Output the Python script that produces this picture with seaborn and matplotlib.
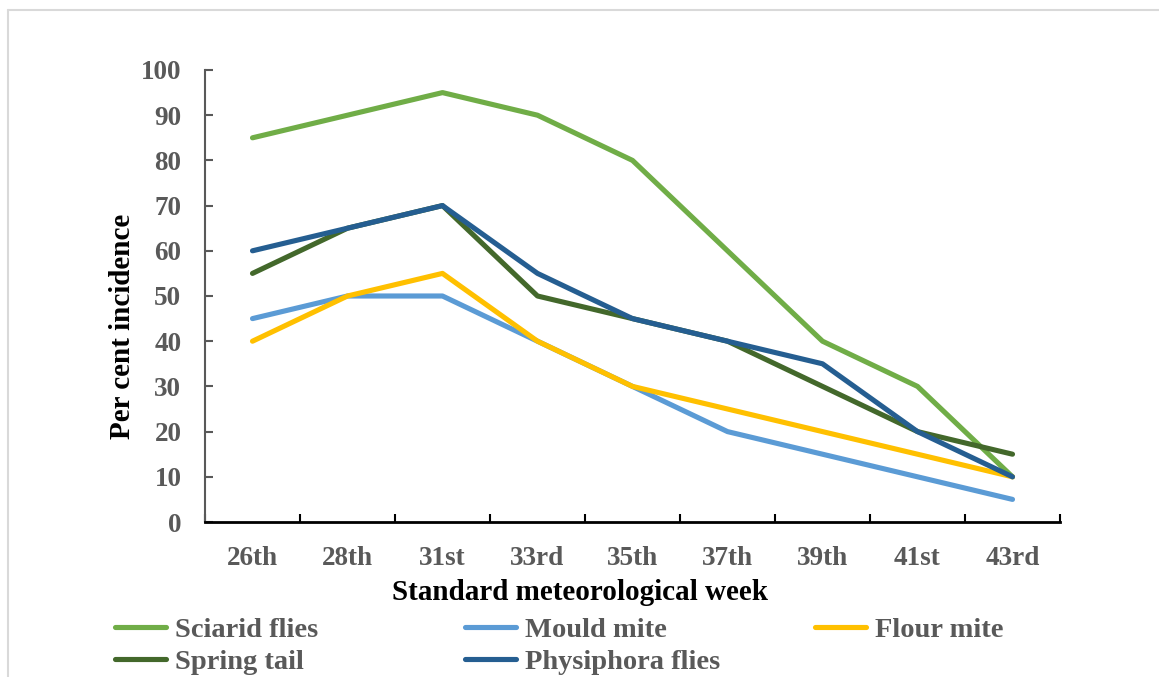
import numpy as np
import pandas as pd
import matplotlib
matplotlib.use("Agg")
import matplotlib.pyplot as plt
import seaborn as sns
from matplotlib.lines import Line2D

weeks = ["26th", "28th", "31st", "33rd", "35th", "37th", "39th", "41st", "43rd"]
sciarid_flies = [85, 90, 95, 90, 80, 60, 40, 30, 10]
mould_mite = [45, 50, 50, 40, 30, 20, 15, 10, 5]
flour_mite = [40, 50, 55, 40, 30, 25, 20, 15, 10]
spring_tail = [55, 65, 70, 50, 45, 40, 30, 20, 15]
physiphora_flies = [60, 65, 70, 55, 45, 40, 35, 20, 10]
series_names = ["Sciarid flies", "Mould mite", "Flour mite", "Spring tail", "Physiphora flies"]
y_ticks = [0, 10, 20, 30, 40, 50, 60, 70, 80, 90, 100]

colors = ["#70AD47", "#5B9BD5", "#FFC000", "#43682B", "#255E91"]
palette = dict(zip(series_names, colors))

sns.set_theme(style="white")
plt.rcParams["font.family"] = ["Liberation Serif", "DejaVu Serif"]
plt.rcParams["font.weight"] = "bold"

W, H = 1159, 677
fig = plt.figure(figsize=(W / 100, H / 100), dpi=100)
ax = fig.add_axes([205 / W, 1 - 522 / H, (1060 - 205) / W, (522 - 70) / H])

values = [sciarid_flies, mould_mite, flour_mite, spring_tail, physiphora_flies]
df = pd.DataFrame({
    "pos": np.tile(np.arange(len(weeks)), len(series_names)),
    "value": np.concatenate(values),
    "series": np.repeat(series_names, len(weeks)),
})
sns.lineplot(data=df, x="pos", y="value", hue="series", hue_order=series_names,
             palette=palette, linewidth=3.7, legend=False, sort=False, ax=ax)
for ln in ax.lines:
    ln.set_solid_capstyle("round")
    ln.set_solid_joinstyle("round")

ax.set_xlim(-0.5, len(weeks) - 0.5)
ax.set_ylim(0, 100)
ax.set_xticks(range(len(weeks)))
ax.set_xticklabels(weeks)
ax.set_xticks(np.arange(-0.5, len(weeks)), minor=True)
ax.set_yticks(y_ticks)
ax.set_yticklabels([str(v) for v in y_ticks])
ax.tick_params(axis="x", which="major", length=0, pad=17, labelsize=19.5, labelcolor="#595959")
ax.tick_params(axis="x", which="minor", direction="in", length=6, width=1.5, color="black", bottom=True)
ax.tick_params(axis="y", which="major", direction="in", length=6, width=1.5, color="#595959",
               pad=17, labelsize=19.5, labelcolor="#595959", left=True)
for lab in ax.get_xticklabels() + ax.get_yticklabels():
    lab.set_fontweight("bold")

for side in ["top", "right"]:
    ax.spines[side].set_visible(False)
ax.spines["left"].set_color("#595959")
ax.spines["left"].set_linewidth(1.5)
ax.spines["bottom"].set_color("black")
ax.spines["bottom"].set_linewidth(2)
ax.set_xlabel("")
ax.set_ylabel("")
ax.grid(False)

fig.text(580 / W, 1 - 592 / H, "Standard meteorological week", ha="center", va="center",
         fontsize=21, fontweight="bold", color="black")
fig.text(122 / W, 1 - 326 / H, "Per cent incidence", ha="center", va="center", rotation=90,
         fontsize=21, fontweight="bold", color="black")

# legend laid out in three columns
columns = [(115, ["Sciarid flies", "Spring tail"]),
           (465, ["Mould mite", "Physiphora flies"]),
           (815, ["Flour mite"])]
for x0, names in columns:
    handles = [Line2D([], [], color=palette[n], linewidth=3.7, solid_capstyle="round") for n in names]
    leg = fig.legend(handles, names, loc="upper left", bbox_to_anchor=(x0 / W, 1 - 617 / H),
                     frameon=False, fontsize=20.5, handlelength=1.8, handletextpad=0.3,
                     labelspacing=0.2, borderpad=0, borderaxespad=0)
    for t in leg.get_texts():
        t.set_color("#595959")
        t.set_fontweight("bold")

# outer chart frame
fig.add_artist(Line2D([8 / W, 1.0], [1 - 10 / H, 1 - 10 / H], color="#D9D9D9", linewidth=1.5))
fig.add_artist(Line2D([8 / W, 8 / W], [0, 1 - 10 / H], color="#D9D9D9", linewidth=1.5))

fig.savefig("out.png", dpi=100)
